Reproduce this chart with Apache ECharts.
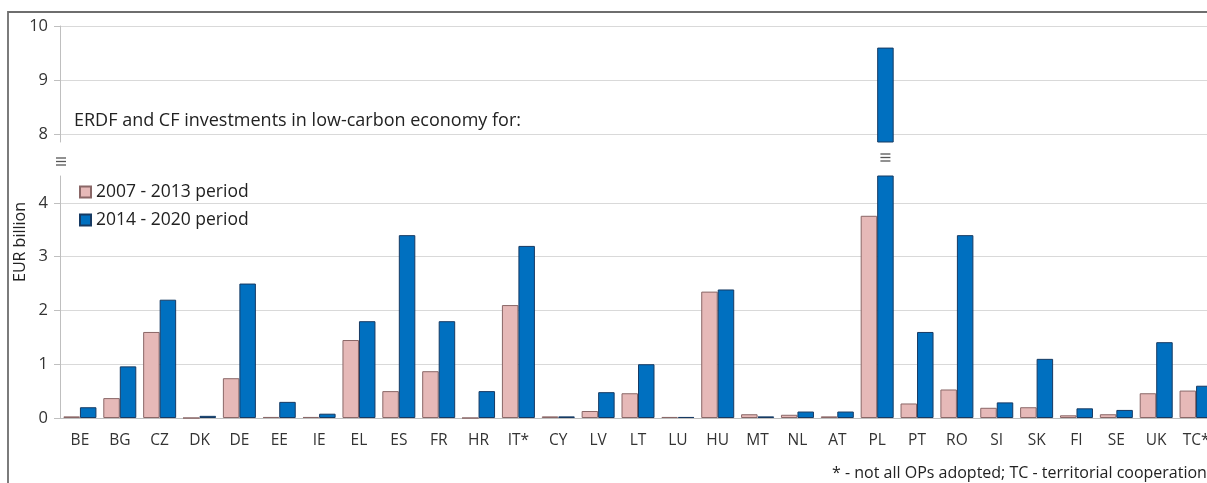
<!DOCTYPE html>
<html>
<head>
<meta charset="utf-8">
<script src="https://cdn.jsdelivr.net/npm/echarts@6/dist/echarts.min.js"></script>
<style>html,body{margin:0;padding:0;background:#fff;}#c{width:1207px;height:483px;}</style>
</head>
<body>
<div id="c"></div>
<script>
const categories = ['BE','BG','CZ','DK','DE','EE','IE','EL','ES','FR','HR','IT*','CY','LV','LT','LU','HU','MT','NL','AT','PL','PT','RO','SI','SK','FI','SE','UK','TC*'];
const period0713 = [0.03,0.37,1.6,0,0.74,0.02,0.02,1.45,0.5,0.87,0,2.1,0.03,0.13,0.46,0.02,2.35,0.07,0.06,0.03,3.76,0.27,0.53,0.19,0.2,0.05,0.07,0.46,0.51];
const period1420 = [0.2,0.96,2.2,0.04,2.5,0.3,0.08,1.8,3.4,1.8,0.5,3.2,0.03,0.48,1.0,0.02,2.39,0.03,0.12,0.12,9.6,1.6,3.4,0.29,1.1,0.18,0.15,1.41,0.6];
const lowerTicks = [0,1,2,3,4];
const upperTicks = [8,9,10];
const lowerMax = 4.5, upperMin = 7.85, upperMax = 10;

const FONT = 'Open Sans';
const pinkStyle = {color:'#E6B9B8', borderColor:'#8a6767', borderWidth:1};
const blueStyle = {color:'#0070C0', borderColor:'#163a63', borderWidth:1};
const upperPink = period0713.map(v => v > lowerMax ? v : null);
const upperBlue = period1420.map(v => v > lowerMax ? v : null);

const GRID_LEFT = 60, GRID_WIDTH = 1156;
const chart = echarts.init(document.getElementById('c'));
const yCommon = {
  type:'value',
  axisLine:{show:true, lineStyle:{color:'#bfbfbf', width:1}},
  axisTick:{show:true, length:6, lineStyle:{color:'#bfbfbf'}},
  splitLine:{show:true, lineStyle:{color:'#d9d9d9', width:1}},
  axisLabel:{color:'#333', fontSize:16.5, fontFamily:FONT, margin:12}
};
chart.setOption({
  animation:false,
  textStyle:{fontFamily:FONT},
  grid:[
    {left:GRID_LEFT, width:GRID_WIDTH, top:26, height:116, outerBoundsMode:'none', containLabel:false},
    {left:GRID_LEFT, width:GRID_WIDTH, top:176, height:242, outerBoundsMode:'none', containLabel:false}
  ],
  xAxis:[
    {type:'category', data:categories, gridIndex:0, axisLine:{show:false}, axisTick:{show:false}, axisLabel:{show:false}},
    {type:'category', data:categories, gridIndex:1,
     axisLine:{show:true, lineStyle:{color:'#bfbfbf', width:1}}, axisTick:{show:false},
     axisLabel:{color:'#333', fontSize:15.5, fontFamily:FONT, margin:15, interval:0}}
  ],
  yAxis:[
    Object.assign({}, yCommon, {gridIndex:0, min:upperMin, max:upperMax,
      axisLabel:Object.assign({}, yCommon.axisLabel, {customValues:upperTicks}),
      axisTick:Object.assign({}, yCommon.axisTick, {customValues:upperTicks})}),
    Object.assign({}, yCommon, {gridIndex:1, min:0, max:lowerMax,
      axisLabel:Object.assign({}, yCommon.axisLabel, {customValues:lowerTicks}),
      axisTick:Object.assign({}, yCommon.axisTick, {customValues:lowerTicks})})
  ],
  legend:{
    left:74, top:178, orient:'vertical', itemWidth:11, itemHeight:11, itemGap:10,
    icon:'rect', data:['2007 - 2013 period','2014 - 2020 period'],
    textStyle:{color:'#222', fontSize:17.5, fontFamily:FONT}
  },
  series:[
    {name:'2007 - 2013 period', type:'bar', xAxisIndex:1, yAxisIndex:1, data:period0713, barWidth:16.5, barGap:'0%', itemStyle:pinkStyle, clip:true},
    {name:'2014 - 2020 period', type:'bar', xAxisIndex:1, yAxisIndex:1, data:period1420, barWidth:16.5, barGap:'0%', itemStyle:blueStyle, clip:true},
    {name:'2007 - 2013 period', type:'bar', xAxisIndex:0, yAxisIndex:0, data:upperPink, barWidth:16.5, barGap:'0%', itemStyle:pinkStyle, clip:true},
    {name:'2014 - 2020 period', type:'bar', xAxisIndex:0, yAxisIndex:0, data:upperBlue, barWidth:16.5, barGap:'0%', itemStyle:blueStyle, clip:true}
  ]
});

function breakMark(cx, cy){
  const els = [];
  for (let i=0;i<3;i++){
    els.push({type:'line', shape:{x1:cx-5, y1:cy-4+i*3.5, x2:cx+5, y2:cy-4+i*3.5}, style:{stroke:'#555', lineWidth:1.3}});
  }
  return els;
}
const plIdx = categories.indexOf('PL');
const plX = chart.convertToPixel({xAxisIndex:1}, plIdx) + 8.25;
const axisX = GRID_LEFT + 1;
chart.setOption({
  graphic:[
    {type:'rect', shape:{x:8, y:12, width:1300, height:600}, style:{fill:'none', stroke:'#6e6e6e', lineWidth:1.8}, silent:true},
    {type:'text', x:74, y:121, style:{text:'ERDF and CF investments in low-carbon economy for:', fill:'#222', font:'18px "Open Sans"', verticalAlign:'middle'}},
    {type:'text', x:20, y:242, rotation:Math.PI/2, style:{text:'EUR billion', fill:'#222', font:'16px "Open Sans"', align:'center', verticalAlign:'middle'}},
    {type:'text', x:832, y:473, style:{text:'* - not all OPs adopted; TC - territorial cooperation', fill:'#222', font:'16px "Open Sans"', verticalAlign:'middle'}}
  ].concat(breakMark(axisX, 162), breakMark(plX, 158))
});
</script>
</body>
</html>
